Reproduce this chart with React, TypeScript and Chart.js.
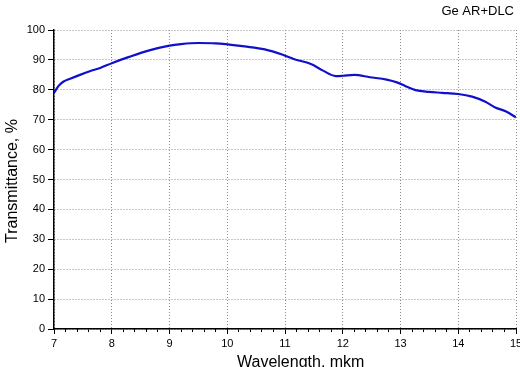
import React, { useEffect, useRef } from "react";
import { Chart, registerables } from "chart.js";

Chart.register(...registerables);

const wavelength = [
  7.0, 7.08, 7.16, 7.28, 7.45, 7.62, 7.8, 8.0, 8.3, 8.65, 9.0, 9.2, 9.5, 9.8,
  10.0, 10.3, 10.65, 10.95, 11.15, 11.45, 11.65, 11.88, 12.0, 12.2, 12.47,
  12.76, 12.95, 13.08, 13.26, 13.49, 13.72, 14.0, 14.24, 14.47, 14.64, 14.82,
  15.0,
];
const transmittance = [
  79.0, 81.3, 82.7, 83.7, 85.0, 86.2, 87.3, 88.9, 91.0, 93.2, 94.8, 95.3,
  95.65, 95.55, 95.2, 94.5, 93.5, 91.8, 90.3, 88.6, 86.5, 84.6, 84.7, 85.0,
  84.2, 83.4, 82.4, 81.3, 79.9, 79.3, 79.0, 78.6, 77.7, 76.0, 74.1, 72.8, 70.8,
];
const chartTitle = "Ge AR+DLC";
const xTitle = "Wavelength, mkm";
const yTitle = "Transmittance, %";

const FONT = '"Liberation Sans", Arial, sans-serif';

export default function App() {
  const ref = useRef<HTMLCanvasElement | null>(null);

  useEffect(() => {
    if (!ref.current) return;
    const textPlugin = {
      id: "texts",
      afterDraw(chart: any) {
        const ctx = chart.ctx;
        ctx.save();
        ctx.fillStyle = "#000";
        ctx.font = `13px ${FONT}`;
        ctx.textAlign = "right";
        ctx.textBaseline = "middle";
        ctx.fillText(chartTitle, 514, 11);
        ctx.font = `16px ${FONT}`;
        ctx.textAlign = "left";
        ctx.textBaseline = "alphabetic";
        ctx.fillText(xTitle, 237, 366.5);
        ctx.translate(17, 181);
        ctx.rotate(-Math.PI / 2);
        ctx.textAlign = "center";
        ctx.fillText(yTitle, 0, 0);
        ctx.restore();
      },
    };
    const chart = new Chart(ref.current, {
      type: "line",
      data: {
        datasets: [
          {
            data: wavelength.map((x, i) => ({ x, y: transmittance[i] })),
            borderColor: "#1010cc",
            borderWidth: 2.2,
            pointRadius: 0,
            tension: 0.4,
            cubicInterpolationMode: "monotone",
            fill: false,
          },
        ],
      },
      options: {
        responsive: false,
        animation: false,
        layout: { padding: { left: 0, right: 4, top: 30, bottom: 0 } },
        plugins: {
          legend: { display: false },
          tooltip: { enabled: false },
          title: { display: false },
        },
        scales: {
          xMinor: {
            type: "linear",
            position: "bottom",
            weight: 0,
            min: 7,
            max: 15,
            ticks: { stepSize: 0.2, display: false },
            grid: {
              drawOnChartArea: false,
              drawTicks: true,
              tickLength: 3,
              tickColor: "#000",
              tickWidth: 1,
            },
            border: { display: false },
            afterFit(scale: any) {
              scale.height = 0;
              scale.paddingLeft = 0;
              scale.paddingRight = 0;
            },
          },
          x: {
            type: "linear",
            position: "bottom",
            weight: 1,
            min: 7,
            max: 15,
            ticks: {
              stepSize: 1,
              color: "#000",
              font: { family: FONT, size: 11 },
              padding: 3,
              maxRotation: 0,
            },
            grid: {
              color: "#8c8c8c",
              lineWidth: 1,
              tickLength: 5,
              tickColor: "#000",
              tickWidth: 1,
              tickBorderDash: [],
            },
            border: { display: true, color: "#000", width: 1.5, dash: [1, 2] },
            afterFit(scale: any) {
              scale.height = 38;
              scale.paddingLeft = 0;
              scale.paddingRight = 0;
            },
          },
          y: {
            type: "linear",
            min: 0,
            max: 100,
            ticks: {
              stepSize: 10,
              color: "#000",
              font: { family: FONT, size: 11 },
              padding: 3,
            },
            grid: {
              color: "#8c8c8c",
              lineWidth: 1,
              tickLength: 6,
              tickColor: "#000",
              tickWidth: 1,
              tickBorderDash: [],
            },
            border: { display: true, color: "#000", width: 1.5, dash: [1, 2] },
            afterFit(scale: any) {
              scale.width = 54;
              scale.paddingTop = 0;
              scale.paddingBottom = 0;
            },
          },
        },
      },
      plugins: [textPlugin],
    } as any);
    return () => chart.destroy();
  }, []);

  return (
    <div style={{ position: "fixed", left: 0, top: 0, width: 520, height: 367, background: "#fff" }}>
      <canvas ref={ref} width={520} height={367} />
    </div>
  );
}
